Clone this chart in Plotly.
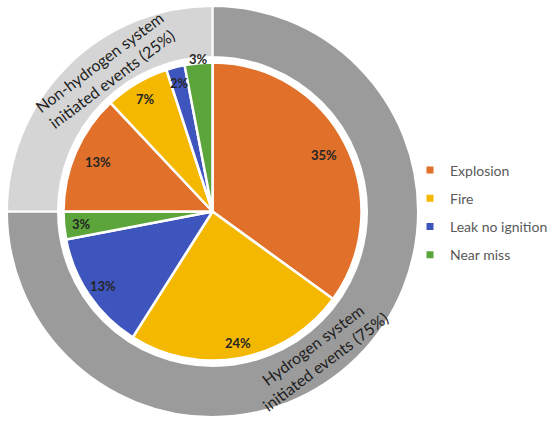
import math
import plotly.graph_objects as go

# data
categories = ["Explosion", "Fire", "Leak no ignition", "Near miss"]
hydrogen_pct = [35, 24, 13, 3]
non_hydrogen_pct = [13, 7, 2, 3]
groups = ["Hydrogen system<br>initiated events (75%)",
          "Non-hydrogen system<br>initiated events (25%)"]
group_pct = [75, 25]

cat_colors = ["#E0702A", "#F5B800", "#3F55BE", "#5BA53A"]
group_colors = ["#9B9B9B", "#D5D5D5"]

# layout in pixels
W, H = 550, 427
cx, cy = 212.5, 211.5
R_out, R_hole, R_pie = 205.5, 154.5, 149


def dom(r):
    return dict(x=[(cx - r) / W, (cx + r) / W],
                y=[1 - (cy + r) / H, 1 - (cy - r) / H])


def to_paper(ang, r):
    a = math.radians(ang)
    return (cx + r * math.sin(a)) / W, 1 - (cy - r * math.cos(a)) / H


fig = go.Figure()

# outer ring
fig.add_trace(go.Pie(
    values=group_pct, labels=[g.replace("<br>", " ") for g in groups],
    hole=R_hole / R_out, domain=dom(R_out), sort=False, direction="clockwise",
    marker=dict(colors=group_colors, line=dict(color="white", width=2)),
    textinfo="none", showlegend=False))

# inner pie
vals = hydrogen_pct + non_hydrogen_pct
labs = [c + " (H2)" for c in categories] + [c + " (other)" for c in categories]
fig.add_trace(go.Pie(
    values=vals, labels=labs, domain=dom(R_pie), sort=False, direction="clockwise",
    marker=dict(colors=cat_colors * 2, line=dict(color="white", width=2.5)),
    textinfo="none", showlegend=False))

# percent labels
label_r = [0.84, 0.9, 0.89, 0.88, 0.84, 0.88, 0.89, 1.03]
tot = sum(vals)
cum = 0
for v, rf in zip(vals, label_r):
    mid = (cum + v / 2) / tot * 360
    cum += v
    x, y = to_paper(mid, rf * R_pie)
    fig.add_annotation(x=x, y=y, xref="paper", yref="paper", text="<b>%d%%</b>" % v,
                       xanchor="center", yanchor="middle", showarrow=False,
                       font=dict(size=13, color="#262626"))

# ring labels
cum = 0
for g, v in zip(groups, group_pct):
    mid = (cum + v / 2) / 100 * 360 + 8
    cum += v
    x, y = to_paper(mid, 177)
    fig.add_annotation(x=x, y=y, xref="paper", yref="paper", text=g, showarrow=False,
                       xanchor="center", yanchor="middle",
                       textangle=((mid + 90) % 180) - 90,
                       font=dict(size=16, color="#1E1E1E"))

# legend entries
for c, col in zip(categories, cat_colors):
    fig.add_trace(go.Scatter(x=[None], y=[None], mode="markers", name=c, legendgroup=c,
                             marker=dict(symbol="square", size=7, color=col)))

fig.update_layout(
    width=W, height=H, margin=dict(l=0, r=0, t=0, b=0, autoexpand=False),
    paper_bgcolor="white", plot_bgcolor="white",
    font=dict(family="Lato, sans-serif"),
    xaxis=dict(visible=False), yaxis=dict(visible=False),
    legend=dict(x=410 / W, y=1 - 212.5 / H, xanchor="left", yanchor="middle",
                font=dict(size=14, color="#595959"), tracegroupgap=7,
                bgcolor="rgba(0,0,0,0)"),
)

fig.write_html("out.html", config={"displayModeBar": False},
               post_script="document.body.style.margin='0px';")
